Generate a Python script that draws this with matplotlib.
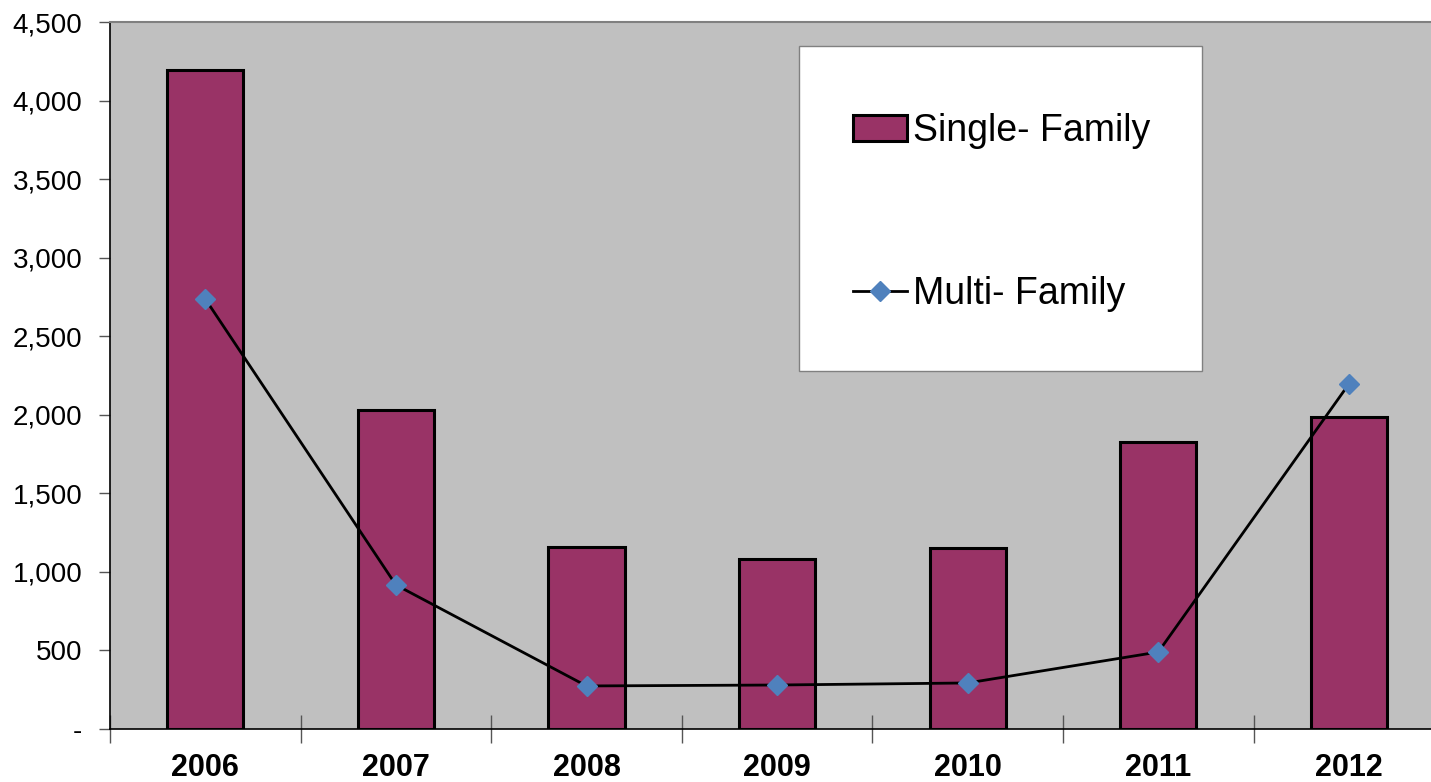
import numpy as np
import matplotlib.pyplot as plt
from matplotlib.patches import Rectangle
from matplotlib.ticker import FuncFormatter, FixedLocator

plt.rcParams['font.family'] = ['Liberation Sans', 'DejaVu Sans']

years = ['2006', '2007', '2008', '2009', '2010', '2011', '2012']
single_family = [4195, 2031, 1158, 1082, 1152, 1827, 1986]
multi_family = [2737, 917, 274, 280, 293, 490, 2196]

W, H = 1431, 782
fig = plt.figure(figsize=(W / 100, H / 100), dpi=100)
cat_w = 190.6
ax = fig.add_axes([110 / W, (H - 729) / H, 7 * cat_w / W, 707 / H])
ax.set_facecolor('#C0C0C0')

x = np.arange(len(years))
bars = ax.bar(x, single_family, width=0.4, color='#993366', edgecolor='black',
              linewidth=2.2, label='Single- Family', zorder=2)
line, = ax.plot(x, multi_family, color='black', lw=2.0, marker='D', markersize=10.5,
                markerfacecolor='#4F81BD', markeredgecolor='#4F81BD',
                label='Multi- Family', zorder=3)

ax.set_xlim(-0.5, 6.5)
ax.set_ylim(0, 4500)
ax.set_yticks(np.arange(0, 4501, 500))
ax.yaxis.set_major_formatter(FuncFormatter(lambda v, p: '-' if v == 0 else f'{int(v):,}'))
ax.tick_params(axis='y', labelsize=20, length=8, width=1, color='#555555', pad=12)

ax.set_xticks(x)
ax.set_xticklabels(years, fontsize=22, fontweight='bold')
ax.tick_params(axis='x', which='major', length=0, pad=17)
ax.xaxis.set_minor_locator(FixedLocator(np.arange(-0.5, 7, 1.0)))
ax.tick_params(axis='x', which='minor', direction='inout', length=20, width=1, color='#555555')

for s in ['left', 'bottom']:
    ax.spines[s].set_color('black')
    ax.spines[s].set_linewidth(1.2)
ax.spines['top'].set_color('#808080')
ax.spines['top'].set_linewidth(1.5)
ax.spines['right'].set_visible(False)

# legend box drawn separately so the padding can differ per side
ax.add_patch(Rectangle((799 / W, 1 - 371 / H), 403 / W, 325 / H,
                       transform=fig.transFigure, facecolor='white',
                       edgecolor='#808080', linewidth=1.0, zorder=4, clip_on=False))
leg = ax.legend([bars, line], ['Single- Family', 'Multi- Family'],
                loc='upper left', bbox_to_anchor=(853 / W, 1 - 113 / H),
                bbox_transform=fig.transFigure, borderaxespad=0,
                fontsize=27, frameon=False, borderpad=0,
                labelspacing=3.38, handlelength=1.45, handletextpad=0.15)
leg.set_zorder(6)

fig.savefig('out.png', dpi=100)
